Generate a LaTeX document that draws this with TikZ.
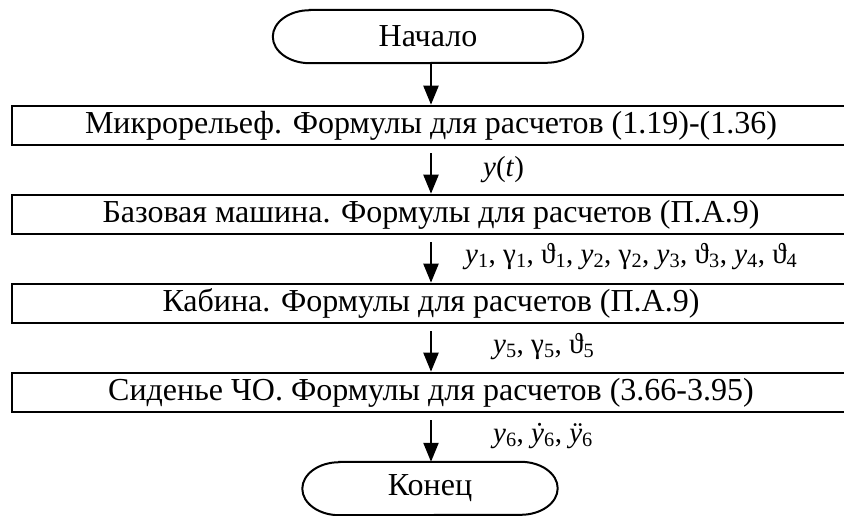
\documentclass[tikz,border=0pt]{standalone}
\usepackage{fontspec}
\setmainfont{Liberation Serif}
\usetikzlibrary{arrows.meta}
\tikzset{
  procbox/.style={draw, line width=2.6pt, minimum width=838pt, minimum height=39pt,
    inner sep=0pt, font=\fontsize{32}{36}\selectfont},
  term/.style={minimum height=53pt, inner sep=0pt, font=\fontsize{32}{36}\selectfont},
  termline/.style={line width=2pt},
  flow/.style={line width=2.2pt, -{Triangle[length=19pt,width=15pt]}},
  sig/.style={anchor=base west, inner sep=0pt, font=\fontsize{29}{32}\selectfont}
}
\newcommand{\vth}{\char"03D1}
% outline of a terminal node with half-elliptic ends
\newcommand{\termoutline}[1]{%
  \draw[termline] ([xshift=37pt]#1.north west) -- ([xshift=-37pt]#1.north east)
    arc[start angle=90, end angle=-90, x radius=37pt, y radius=26.5pt]
    -- ([xshift=37pt]#1.south west)
    arc[start angle=270, end angle=90, x radius=37pt, y radius=26.5pt] -- cycle;}
\begin{document}
\begin{tikzpicture}[x=1pt,y=-1pt]
  \clip (0,0) rectangle (844,515);
  \fill[white] (0,0) rectangle (844,515);

  % terminals
  \node[term, minimum width=310pt] (start) at (428,36.5) {Начало};
  \node[term, minimum width=255pt] (stop) at (430,488.5) {Конец};
  \termoutline{start}
  \termoutline{stop}

  % process blocks
  \node[procbox] (b1) at (431,125.5) {Микрорельеф. Формулы для расчетов (1.19)-(1.36)};
  \node[procbox] (b2) at (431,214.5) {Базовая машина. Формулы для расчетов (П.А.9)};
  \node[procbox] (b3) at (431,303.5) {Кабина. Формулы для расчетов (П.А.9)};
  \node[procbox] (b4) at (431,392.5) {Сиденье ЧО. Формулы для расчетов (3.66-3.95)};

  % flow lines
  \draw[flow] (start.south -| b1.north) -- (b1.north);
  \draw[flow, shorten <=7pt] (b1.south) -- (b2.north);
  \draw[flow, shorten <=7pt] (b2.south) -- (b3.north);
  \draw[flow, shorten <=7pt] (b3.south) -- (b4.north);
  \draw[flow, shorten <=7pt] (b4.south) -- (b4.south |- stop.north);

  % signals passed between blocks
  \node[sig] (s1) at (483,176) {\textit{y}(\textit{t})};
  \node[sig] (s2) at (465,263) {\textit{y}\textsubscript{1}, γ\textsubscript{1}, \vth\textsubscript{1}, \textit{y}\textsubscript{2}, γ\textsubscript{2}, \textit{y}\textsubscript{3}, \vth\textsubscript{3}, \textit{y}\textsubscript{4}, \vth\textsubscript{4}};
  \node[sig] (s3) at (493,353) {\textit{y}\textsubscript{5}, γ\textsubscript{5}, \vth\textsubscript{5}};
  \node[sig] (s4) at (493,442) {\textit{y}\textsubscript{6}, \textit{ẏ}\textsubscript{6}, \textit{ÿ}\textsubscript{6}};
\end{tikzpicture}
\end{document}
